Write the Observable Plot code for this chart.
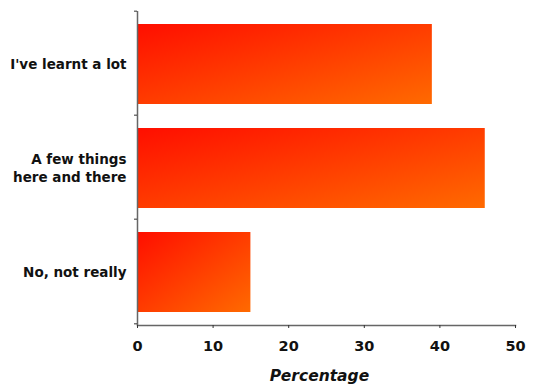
<!DOCTYPE html>
<html><head><meta charset="utf-8">
<script src="https://cdn.jsdelivr.net/npm/d3@7"></script>
<script src="https://cdn.jsdelivr.net/npm/@observablehq/plot@0.6"></script>
<style>body{margin:0;background:#fff}</style>
</head><body><div id="chart"></div>
<script>
const categories = ["I've learnt a lot", "A few things\nhere and there", "No, not really"];
const values = [39, 46, 15];
const xTicks = [0, 10, 20, 30, 40, 50];
const axisLabel = "Percentage";

const data = categories.map((c, i) => ({label: c, value: values[i]}));
const font = "'DejaVu Sans', Verdana, sans-serif";

const chart = Plot.plot({
  width: 534, height: 385,
  marginLeft: 137, marginRight: 19, marginTop: 11, marginBottom: 60,
  style: {fontFamily: font, background: "#fff", overflow: "visible"},
  x: {domain: [0, 50]},
  y: {domain: categories, paddingInner: 0.23, paddingOuter: 0.115},
  marks: [
    Plot.barX(data, {x: "value", y: "label", fill: "url(#barGrad)"}),
    Plot.ruleX([0], {stroke: "#666", strokeWidth: 1.5}),
    Plot.frame({anchor: "bottom", stroke: "#666", strokeWidth: 1.5}),
    Plot.axisX({ticks: xTicks, tickSize: 3, tickPadding: 12, label: null, fontSize: 14.5, fontWeight: "bold", stroke: "#333", fill: "#111"}),
    Plot.axisY({tickSize: 3, tickPadding: 8, label: null, fontSize: 13.5, fontWeight: "bold", lineHeight: 1.3, stroke: "#333", fill: "#111", dy: -1}),
    Plot.text([axisLabel], {frameAnchor: "bottom", dy: 55, dx: -7, fontSize: 15.5, fontWeight: "bold", fontStyle: "italic", fill: "#111"})
  ]
});

const svg = d3.select(chart);
const defs = svg.insert("defs", ":first-child");
const g = defs.append("linearGradient").attr("id", "barGrad")
  .attr("x1", "0").attr("y1", "0").attr("x2", "1").attr("y2", "1");
g.append("stop").attr("offset", "0%").attr("stop-color", "#ff0e00");
g.append("stop").attr("offset", "100%").attr("stop-color", "#ff6a00");

// move y ticks to band boundaries
const ys = chart.scale("y");
const step = (ys.range[1] - ys.range[0]) / ys.domain.length;
const tickPaths = svg.selectAll('g[aria-label="y-axis tick"] path').nodes();
tickPaths.forEach(p => {
  const m = /translate\(([^,]+),([^)]+)\)/.exec(p.getAttribute("transform"));
  p.setAttribute("transform", `translate(${+m[1]},${+m[2] - step / 2})`);
});
if (tickPaths.length) {
  const last = tickPaths[tickPaths.length - 1];
  const c = last.cloneNode(true);
  const m = /translate\(([^,]+),([^)]+)\)/.exec(c.getAttribute("transform"));
  c.setAttribute("transform", `translate(${+m[1]},${+m[2] + step})`);
  last.parentNode.appendChild(c);
}
document.getElementById("chart").appendChild(chart);
</script>
</body></html>
